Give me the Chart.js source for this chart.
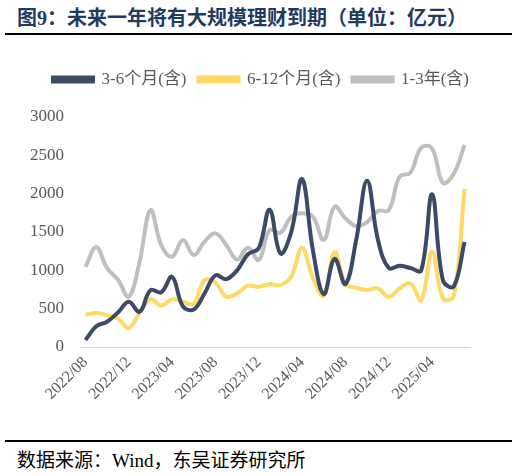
<!DOCTYPE html>
<html>
<head>
<meta charset="utf-8">
<script src="https://cdn.jsdelivr.net/npm/chart.js@4.4.0/dist/chart.umd.js"></script>
<style>
    body { margin: 0; width: 518px; height: 476px; background: #fff; position: relative; overflow: hidden; }
    .ttl { position: absolute; left: 17px; top: 2px; font: bold 20px "Liberation Serif", "Noto Sans CJK SC", serif; color: #1f3b5f; white-space: nowrap; }
    .rule { position: absolute; left: 5px; width: 507px; height: 2px; background: #000; }
    .src { position: absolute; left: 17px; top: 445px; font: 19px "Liberation Serif", "Noto Sans CJK SC", serif; color: #000; white-space: nowrap; }
    .wrap { position: absolute; left: 0; top: 40px; width: 518px; height: 395px; }
</style>
</head>
<body>
<div class="ttl">图9：未来一年将有大规模理财到期（单位：亿元）</div>
<div class="rule" style="top:33px;"></div>
<div class="wrap"><canvas id="c"></canvas></div>
<div class="rule" style="top:440px;"></div>
<div class="src">数据来源：Wind，东吴证券研究所</div>
<script>
// monthly, 2022/08 .. 2025/07
const months = [];
for (let y = 2022, m = 8; months.length < 36; m++) {
    if (m > 12) { m = 1; y++; }
    months.push(`${y}/${String(m).padStart(2, '0')}`);
}

const s3to6 = [90, 270, 330, 450, 590, 460, 740, 715, 915, 530, 490, 700,
               935, 885, 1000, 1210, 1290, 1790, 1220, 1500, 2190, 1260, 690, 1150,
               820, 1400, 2170, 1400, 1030, 1060, 1030, 1000, 1990, 870, 790, 1370];
const s6to12 = [420, 445, 415, 370, 245, 445, 625, 540, 622, 590, 565, 870,
                840, 656, 700, 800, 785, 820, 808, 920, 1290, 900, 670, 1235,
                830, 770, 745, 765, 655, 765, 830, 610, 1243, 635, 665, 2065];
const s1to3y = [1047, 1300, 1030, 880, 656, 1110, 1786, 1330, 1178, 1395, 1200, 1374,
                1482, 1330, 1140, 1295, 1134, 1526, 1490, 1700, 1743, 1700, 1395, 1830,
                1678, 1578, 1630, 1775, 1786, 2220, 2275, 2600, 2590, 2140, 2260, 2634];

const names = ['3-6个月(含)', '6-12个月(含)', '1-3年(含)'];
const colors = ['#3b4a66', '#ffd966', '#bfbfbf'];
const yTicks = [0, 500, 1000, 1500, 2000, 2500, 3000];

const font = (size) => ({ family: '"Liberation Serif", "Noto Sans CJK SC", serif', size });

const ds = (i, data) => ({
    label: names[i], data, borderColor: colors[i], backgroundColor: colors[i],
    borderWidth: 4, pointRadius: 0, tension: 0.4, fill: false,
});

// extra room under the legend so the plot starts lower, and centre it on the page
const legendGap = {
    id: 'legendGap',
    afterInit(chart) {
        const lg = chart.legend, fit = lg.fit;
        lg.fit = function () { fit.call(this); this.height += 19; };
    },
    afterLayout(chart) {
        chart.legend.left += 26;
        chart.legend.right += 26;
    },
};

new Chart(document.getElementById('c'), {
    type: 'line',
    data: { labels: months, datasets: [ds(0, s3to6), ds(1, s6to12), ds(2, s1to3y)] },
    plugins: [legendGap],
    options: {
        responsive: true, maintainAspectRatio: false, animation: false,
        layout: { padding: { left: 0, right: 48, top: 19, bottom: 0 } },
        plugins: {
            legend: {
                position: 'top',
                labels: { boxWidth: 40, boxHeight: 4, padding: 12, color: '#595959', font: font(17) },
            },
            tooltip: { enabled: false },
        },
        scales: {
            x: {
                offset: true,
                grid: { display: false, drawTicks: false },
                border: { display: true, color: '#d9d9d9', width: 1 },
                ticks: {
                    autoSkip: false, minRotation: 45, maxRotation: 45, padding: 6,
                    color: '#595959', font: font(16),
                    callback: (v, i) => (i % 4 === 0 ? months[i] : ''),
                },
                afterFit: (s) => { s.height = 88; },
            },
            y: {
                min: 0, max: 3000,
                afterBuildTicks: (s) => { s.ticks = yTicks.map((v) => ({ value: v })); },
                grid: { display: false, drawTicks: false },
                border: { display: false },
                ticks: { padding: 16, color: '#595959', font: font(17), callback: (v) => String(v) },
                afterFit: (s) => { s.width = 80; },
            },
        },
    },
});
</script>
</body>
</html>
